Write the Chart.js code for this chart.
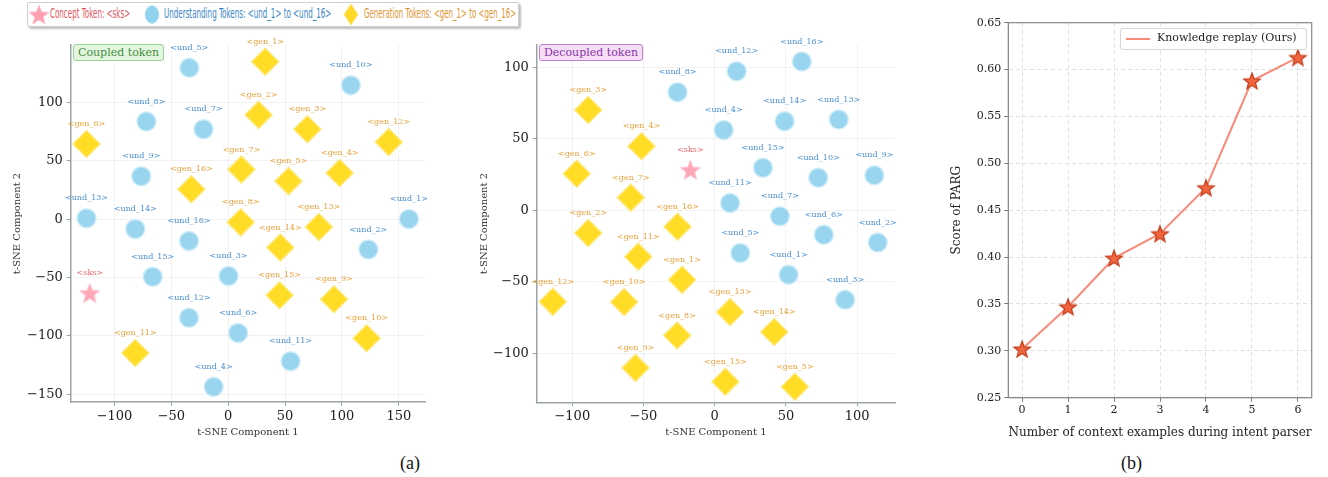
<!DOCTYPE html>
<html lang="en">
<head>
<meta charset="UTF-8">
<title>Token t-SNE and PARG score</title>
<script src="https://cdn.jsdelivr.net/npm/chart.js"></script>
<style>
  body { margin: 0; background: #fff; width: 1328px; height: 477px; position: relative; overflow: hidden; font-family: "DejaVu Serif", serif; }
  .panel { position: absolute; }
  .topLegend { position: absolute; left: 27px; top: 2px; width: 490px; height: 23px; border: 1px solid #cfcfcf; border-radius: 2px; background: #fff; box-shadow: 2px 2px 2px rgba(0,0,0,0.25); }
  .topLegend svg, .topLegend span { position: absolute; }
  .topLegend span { font-family: "DejaVu Sans", sans-serif; font-size: 14.5px; top: 2px; white-space: nowrap; transform-origin: 0 50%; }
  .tag { position: absolute; font-size: 11px; padding: 0 4px; border-radius: 3px; line-height: 15px; }
  .caption { position: absolute; top: 453px; font-family: "Liberation Serif", serif; font-size: 18px; color: #111; }
  .rlegend { position: absolute; left: 1120px; top: 28px; width: 185px; height: 20px; border: 1px solid #d5d5d5; border-radius: 3px; background: rgba(255,255,255,0.9); font-size: 11px; color: #222; }
</style>
</head>
<body>

<div class="topLegend">
  <svg style="left:0;top:0" width="22" height="23" viewBox="0 0 22 23"><polygon id="legStar" fill="#ff9fb2" stroke="#ffc3cf" stroke-width="1"/></svg>
  <span id="lt1" style="left:22px;color:#e0575c">Concept Token: &lt;sks&gt;</span>
  <svg style="left:115px;top:1px" width="22" height="22"><ellipse cx="9" cy="10.5" rx="7" ry="9" fill="#8fd3f0" stroke="#c6eaf8"/></svg>
  <span id="lt2" style="left:136px;color:#3a86c4">Understanding Tokens: &lt;und_1&gt; to &lt;und_16&gt;</span>
  <svg style="left:314px;top:0" width="22" height="23"><polygon points="9,1 16,11.5 9,22 2,11.5" fill="#ffd92a" stroke="#ffe680"/></svg>
  <span id="lt3" style="left:336px;color:#df9432">Generation Tokens: &lt;gen_1&gt; to &lt;gen_16&gt;</span>
</div>

<div class="panel" style="left:0;top:30px;width:440px;height:420px"><canvas id="coupled"></canvas></div>
<div class="panel" style="left:470px;top:30px;width:440px;height:420px"><canvas id="decoupled"></canvas></div>
<div class="panel" style="left:940px;top:0;width:388px;height:450px"><canvas id="parg"></canvas></div>

<div class="tag" style="left:73px;top:44px;background:#e4f5e0;border:1px solid #94d494;color:#3f8f3f">Coupled token</div>
<div class="tag" style="left:539px;top:44px;background:#f6def6;border:1px solid #c27fd2;color:#8a34a8">Decoupled token</div>

<div class="rlegend">
  <div style="position:absolute;left:5px;top:9px;width:24px;height:2px;background:#f98a78"></div>
  <div style="position:absolute;left:36px;top:2px;white-space:nowrap">Knowledge replay (Ours)</div>
</div>

<div class="caption" style="left:400px">(a)</div>
<div class="caption" style="left:1121px">(b)</div>

<script>
// ---- panel (a), coupled token: [x, y] per token, index 0 = token 1
const coupledUnd = [
  [158.9, 0.3], [123.2, -25.9], [0.3, -48.6], [-12.8, -143.6], [-34.2, 129.8], [8.7, -97.5],
  [-21.7, 77.2], [-71.9, 83.8], [-76.5, 36.9], [107.8, 115], [54.8, -121.7], [-34.5, -84.4],
  [-124.6, 0.9], [-81.7, -8.3], [-66.4, -49.2], [-34.5, -18.5]
];
const coupledGen = [
  [32.5, 135], [26.7, 89.5], [69.6, 77.2], [98, 39.7], [53, 32.7], [-124.6, 64.5],
  [11.6, 42.6], [11, -2.6], [93, -68.5], [121.7, -102], [-81.7, -114.6], [141.1, 66.2],
  [79.7, -6.6], [45.8, -24.2], [45.2, -65.1], [-32.4, 25.8]
];
const coupledSks = [[-121.7, -63.1]];
const coupledXTicks = [-100, -50, 0, 50, 100, 150];
const coupledYTicks = [-150, -100, -50, 0, 50, 100];

// ---- panel (a), decoupled token
const decoupledUnd = [
  [51.9, -45.1], [114.5, -22.6], [91.6, -62.7], [6.3, 56.1], [18, -30], [76.6, -17.2],
  [45.8, -4.2], [-26.1, 82.6], [112.1, 24.4], [72.7, 22.7], [10.8, 5.1], [15.4, 97.2],
  [87.1, 63.4], [49.1, 62.2], [33.9, 29.7], [61.2, 104]
];
const decoupledGen = [
  [-22.9, -48.7], [-88.8, -16], [-88.8, 70.1], [-51.4, 44.8], [56.3, -123.5], [-96.9, 25.5],
  [-58.9, 8.8], [-26.4, -87.7], [-55.6, -110.3], [-63.6, -64.3], [-53.7, -32.5], [-113.7, -64.1],
  [10.8, -71.3], [41.8, -85.2], [7.5, -120], [-26.1, -11.6]
];
const decoupledSks = [[-17.1, 28.3]];
const decoupledXTicks = [-100, -50, 0, 50, 100];
const decoupledYTicks = [-100, -50, 0, 50, 100];

// ---- panel (b)
const contextExamples = [0, 1, 2, 3, 4, 5, 6];
const pargScores = [0.302, 0.347, 0.399, 0.425, 0.474, 0.588, 0.613];
const pargYTicks = [0.25, 0.30, 0.35, 0.40, 0.45, 0.50, 0.55, 0.60, 0.65];

const SERIF = '"DejaVu Serif", serif';
const minus = v => String(v).replace('-', '\u2212');

function starPath(ctx, cx, cy, R, r) {
  ctx.beginPath();
  for (let i = 0; i < 10; i++) {
    const rad = i % 2 ? r : R;
    const a = -Math.PI / 2 + i * Math.PI / 5;
    ctx.lineTo(cx + rad * Math.cos(a), cy + rad * Math.sin(a));
  }
  ctx.closePath();
}
function starImage(R, fill, stroke, lw) {
  const c = document.createElement('canvas');
  const s = Math.ceil(2 * R + 2 * lw + 2);
  c.width = c.height = s;
  const ctx = c.getContext('2d');
  starPath(ctx, s / 2, s / 2 + R * 0.1, R, R * 0.42);
  ctx.fillStyle = fill; ctx.fill();
  ctx.lineWidth = lw; ctx.strokeStyle = stroke; ctx.stroke();
  return c;
}

// legend star icon
(function () {
  const pts = [];
  for (let i = 0; i < 10; i++) {
    const rad = i % 2 ? 4.4 : 10.5;
    const a = -Math.PI / 2 + i * Math.PI / 5;
    pts.push((11 + rad * Math.cos(a)).toFixed(1) + ',' + (12.5 + rad * Math.sin(a)).toFixed(1));
  }
  document.getElementById('legStar').setAttribute('points', pts.join(' '));
})();
// squeeze legend texts to the widths seen in the figure
[['lt1', 80], ['lt2', 167], ['lt3', 152]].forEach(([id, w]) => {
  const el = document.getElementById(id);
  el.style.transform = 'scaleX(' + (w / el.offsetWidth).toFixed(3) + ')';
});

// draws the token name above each point
const tokenLabelPlugin = {
  id: 'tokenLabels',
  afterDatasetsDraw(chart) {
    const ctx = chart.ctx;
    ctx.save();
    ctx.font = '8px ' + SERIF;
    ctx.textAlign = 'center';
    ctx.textBaseline = 'middle';
    chart.data.datasets.forEach((ds, i) => {
      if (!ds.tokenLabels) return;
      ctx.fillStyle = ds.labelColor;
      chart.getDatasetMeta(i).data.forEach((pt, j) => {
        ctx.fillText(ds.tokenLabels[j], pt.x, pt.y - 20);
      });
    });
    ctx.restore();
  }
};

function toPoints(arr) { return arr.map(p => ({ x: p[0], y: p[1] })); }
function names(prefix, n) { return Array.from({ length: n }, (_, i) => '<' + prefix + '_' + (i + 1) + '>'); }

function tsneChart(id, und, gen, sks, xr, yr, xTicks, yTicks, yAxisW, xAxisH, pad, yTitlePad) {
  const sksStar = starImage(10.5, 'rgba(255,150,170,0.85)', 'rgba(255,190,205,0.9)', 1);
  return new Chart(document.getElementById(id), {
    type: 'scatter',
    data: {
      datasets: [
        {
          data: toPoints(sks), pointStyle: sksStar, pointRadius: 10,
          tokenLabels: ['<sks>'], labelColor: '#e8676b'
        },
        {
          data: toPoints(und), pointStyle: 'circle', pointRadius: 9.5,
          backgroundColor: 'rgba(135,206,235,0.85)', borderColor: 'rgba(205,236,250,0.95)', borderWidth: 1.5,
          tokenLabels: names('und', und.length), labelColor: '#4a8fd0'
        },
        {
          data: toPoints(gen), pointStyle: 'rectRot', pointRadius: 13.5,
          backgroundColor: 'rgba(255,215,0,0.85)', borderColor: 'rgba(255,232,120,0.95)', borderWidth: 1.5,
          tokenLabels: names('gen', gen.length), labelColor: '#e8a13a'
        }
      ]
    },
    options: {
      responsive: true, maintainAspectRatio: false, animation: false,
      layout: { padding: pad },
      plugins: { legend: { display: false }, tooltip: { enabled: false } },
      scales: {
        x: {
          type: 'linear', min: xr[0], max: xr[1],
          afterBuildTicks: s => { s.ticks = xTicks.map(v => ({ value: v })); },
          afterFit: s => { s.height = xAxisH; },
          grid: { color: 'rgba(0,0,0,0.05)', tickColor: '#9aa3a7', tickLength: 4, tickWidth: 1 },
          border: { display: true, color: '#9aa3a7', width: 1.5, dash: [] },
          ticks: { color: '#222', font: { family: SERIF, size: 13 }, padding: 3, callback: v => minus(v) },
          title: { display: true, text: 't-SNE Component 1', color: '#333', font: { family: SERIF, size: 10 }, padding: { top: 2, bottom: 12 } }
        },
        y: {
          type: 'linear', min: yr[0], max: yr[1],
          afterBuildTicks: s => { s.ticks = yTicks.map(v => ({ value: v })); },
          afterFit: s => { s.width = yAxisW; },
          grid: { color: 'rgba(0,0,0,0.05)', tickColor: '#9aa3a7', tickLength: 4, tickWidth: 1 },
          border: { display: true, color: '#9aa3a7', width: 1.5 },
          ticks: { color: '#222', font: { family: SERIF, size: 13 }, padding: 4, callback: v => minus(v) },
          title: { display: true, text: 't-SNE Component 2', color: '#333', font: { family: SERIF, size: 10 }, padding: { top: yTitlePad, bottom: 0 } }
        }
      }
    },
    plugins: [tokenLabelPlugin]
  });
}

tsneChart('coupled', coupledUnd, coupledGen, coupledSks, [-138.5, 173], [-156.6, 149.4],
  coupledXTicks, coupledYTicks, 70.7, 48, { top: 13, right: 11, left: 0, bottom: 0 }, 11);
tsneChart('decoupled', decoupledUnd, decoupledGen, decoupledSks, [-125, 126.6], [-134.4, 115.6],
  decoupledXTicks, decoupledYTicks, 66.7, 47.7, { top: 13.3, right: 14.3, left: 0, bottom: 0 }, 8);

// frame around panel (b)
const boxPlugin = {
  id: 'box',
  afterDraw(chart) {
    const a = chart.chartArea, ctx = chart.ctx;
    ctx.save();
    ctx.strokeStyle = '#8a8a8a'; ctx.lineWidth = 1.2;
    ctx.strokeRect(a.left, a.top, a.right - a.left, a.bottom - a.top);
    ctx.restore();
  }
};

new Chart(document.getElementById('parg'), {
  type: 'scatter',
  data: {
    datasets: [{
      label: 'Knowledge replay (Ours)',
      data: contextExamples.map((x, i) => ({ x: x, y: pargScores[i] })),
      showLine: true, borderColor: '#f98a78', borderWidth: 2,
      pointStyle: starImage(8.5, '#f0673f', '#c63e1c', 1.3), pointRadius: 8
    }]
  },
  options: {
    responsive: true, maintainAspectRatio: false, animation: false,
    layout: { padding: { top: 22.7, right: 16.3, left: 0, bottom: 0 } },
    plugins: { legend: { display: false }, tooltip: { enabled: false } },
    scales: {
      x: {
        type: 'linear', min: -0.3, max: 6.3,
        afterBuildTicks: s => { s.ticks = contextExamples.map(v => ({ value: v })); },
        afterFit: s => { s.height = 52.3; },
        grid: { color: '#e1e1e1', tickColor: '#777', tickLength: 4 },
        border: { display: true, color: '#8a8a8a', dash: [4, 3] },
        ticks: { color: '#222', font: { family: SERIF, size: 11 }, padding: 2 },
        title: { display: true, text: 'Number of context examples during intent parser', color: '#222', font: { family: SERIF, size: 12 }, padding: { top: 4, bottom: 10 } }
      },
      y: {
        type: 'linear', min: 0.25, max: 0.65,
        afterBuildTicks: s => { s.ticks = pargYTicks.map(v => ({ value: v })); },
        afterFit: s => { s.width = 68.3; },
        grid: { color: '#e1e1e1', tickColor: '#777', tickLength: 4 },
        border: { display: true, color: '#8a8a8a', dash: [4, 3] },
        ticks: { color: '#222', font: { family: SERIF, size: 11 }, padding: 3, callback: v => v.toFixed(2) },
        title: { display: true, text: 'Score of PARG', color: '#222', font: { family: SERIF, size: 12 }, padding: { top: 10, bottom: 0 } }
      }
    }
  },
  plugins: [boxPlugin]
});
</script>
</body>
</html>
